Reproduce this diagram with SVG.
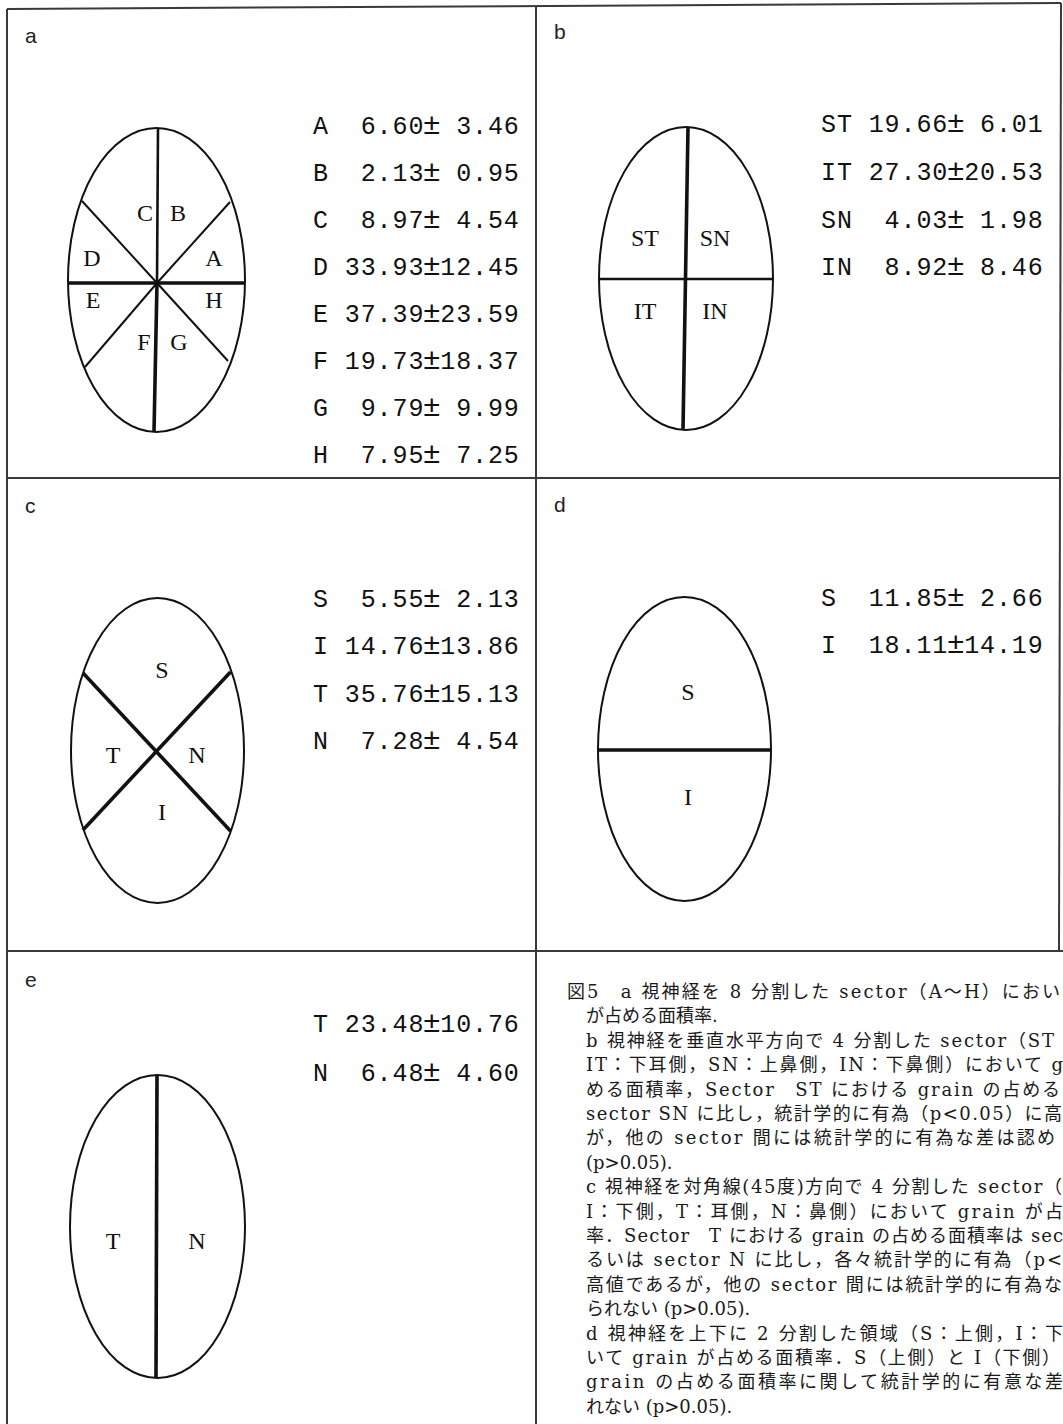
<svg xmlns="http://www.w3.org/2000/svg" width="1063" height="1424" viewBox="0 0 1063 1424">
<style>
.el{fill:none;stroke:#111;stroke-width:2}
.thin{stroke:#111;stroke-width:2;fill:none}
.mid{stroke:#111;stroke-width:2.6;fill:none}
.thick{stroke:#111;stroke-width:3.6;fill:none}
.frame{stroke:#3a3a3a;stroke-width:2;fill:none}
.lbl{font-family:"Liberation Serif",serif;font-size:24px;text-anchor:middle;fill:#111}
.val{font-family:"Liberation Mono",monospace;font-size:25px;letter-spacing:0.9px;fill:#111}
.pm{font-size:30px}
.pl{font-family:"Liberation Sans",sans-serif;font-size:21px;fill:#222}
.cap{font-family:"DejaVu Serif","Noto Sans CJK JP",serif;font-size:18px;fill:#1a1a1a}
</style>
<rect x="0" y="0" width="1063" height="1424" fill="#ffffff"/>
<g id="frame">
<line class="frame" x1="7" y1="9" x2="1061" y2="3"/>
<line class="frame" x1="7" y1="9" x2="7" y2="1424"/>
<line class="frame" x1="1061" y1="3" x2="1059" y2="951"/>
<line class="frame" x1="536" y1="6" x2="536" y2="1424"/>
<line class="frame" x1="7" y1="478" x2="1060" y2="478"/>
<line class="frame" x1="7" y1="951" x2="1063" y2="951"/>
</g>
<g id="panel-a">
<text class="pl" x="25" y="43">a</text>
<ellipse class="el" cx="156.5" cy="280" rx="88.5" ry="152"/>
<line class="thick" x1="68" y1="283" x2="245" y2="283"/>
<line class="mid" x1="158" y1="128" x2="157" y2="283"/>
<line class="thick" x1="157" y1="283" x2="154" y2="432"/>
<line class="thin" x1="82" y1="201" x2="157" y2="283"/>
<line class="thin" x1="230" y1="202" x2="157" y2="283"/>
<line class="thin" x1="85" y1="367" x2="157" y2="283"/>
<line class="thin" x1="228" y1="361" x2="157" y2="283"/>
<text class="lbl" x="145" y="221">C</text>
<text class="lbl" x="178" y="221">B</text>
<text class="lbl" x="92" y="266">D</text>
<text class="lbl" x="214" y="266">A</text>
<text class="lbl" x="93" y="308">E</text>
<text class="lbl" x="214" y="308">H</text>
<text class="lbl" x="144" y="350">F</text>
<text class="lbl" x="179" y="350">G</text>
<text class="val" xml:space="preserve" x="313" y="134">A  6.60<tspan class="pm" dx="-1.5">±</tspan><tspan dx="-1.5"> 3.46</tspan></text>
<text class="val" xml:space="preserve" x="313" y="181">B  2.13<tspan class="pm" dx="-1.5">±</tspan><tspan dx="-1.5"> 0.95</tspan></text>
<text class="val" xml:space="preserve" x="313" y="228">C  8.97<tspan class="pm" dx="-1.5">±</tspan><tspan dx="-1.5"> 4.54</tspan></text>
<text class="val" xml:space="preserve" x="313" y="275">D 33.93<tspan class="pm" dx="-1.5">±</tspan><tspan dx="-1.5">12.45</tspan></text>
<text class="val" xml:space="preserve" x="313" y="322">E 37.39<tspan class="pm" dx="-1.5">±</tspan><tspan dx="-1.5">23.59</tspan></text>
<text class="val" xml:space="preserve" x="313" y="369">F 19.73<tspan class="pm" dx="-1.5">±</tspan><tspan dx="-1.5">18.37</tspan></text>
<text class="val" xml:space="preserve" x="313" y="416">G  9.79<tspan class="pm" dx="-1.5">±</tspan><tspan dx="-1.5"> 9.99</tspan></text>
<text class="val" xml:space="preserve" x="313" y="463">H  7.95<tspan class="pm" dx="-1.5">±</tspan><tspan dx="-1.5"> 7.25</tspan></text>
</g>
<g id="panel-b">
<text class="pl" x="554" y="39">b</text>
<ellipse class="el" cx="686" cy="278.5" rx="87" ry="151.5"/>
<line class="mid" x1="599" y1="279" x2="773" y2="279"/>
<line class="thick" x1="688" y1="127" x2="683" y2="430"/>
<text class="lbl" x="645" y="246">ST</text>
<text class="lbl" x="715" y="246">SN</text>
<text class="lbl" x="645" y="319">IT</text>
<text class="lbl" x="715" y="319">IN</text>
<text class="val" xml:space="preserve" x="821" y="132">ST 19.66<tspan class="pm" dx="-1.5">±</tspan><tspan dx="-1.5"> 6.01</tspan></text>
<text class="val" xml:space="preserve" x="821" y="180">IT 27.30<tspan class="pm" dx="-1.5">±</tspan><tspan dx="-1.5">20.53</tspan></text>
<text class="val" xml:space="preserve" x="821" y="228">SN  4.03<tspan class="pm" dx="-1.5">±</tspan><tspan dx="-1.5"> 1.98</tspan></text>
<text class="val" xml:space="preserve" x="821" y="275">IN  8.92<tspan class="pm" dx="-1.5">±</tspan><tspan dx="-1.5"> 8.46</tspan></text>
</g>
<g id="panel-c">
<text class="pl" x="25" y="513">c</text>
<ellipse class="el" cx="157.5" cy="750.5" rx="86.5" ry="152.5"/>
<line class="thick" x1="83" y1="673" x2="230.5" y2="831"/>
<line class="thick" x1="230.5" y1="672" x2="83" y2="830"/>
<text class="lbl" x="162" y="678">S</text>
<text class="lbl" x="113" y="763">T</text>
<text class="lbl" x="197" y="763">N</text>
<text class="lbl" x="162" y="820">I</text>
<text class="val" xml:space="preserve" x="313" y="607">S  5.55<tspan class="pm" dx="-1.5">±</tspan><tspan dx="-1.5"> 2.13</tspan></text>
<text class="val" xml:space="preserve" x="313" y="654">I 14.76<tspan class="pm" dx="-1.5">±</tspan><tspan dx="-1.5">13.86</tspan></text>
<text class="val" xml:space="preserve" x="313" y="702">T 35.76<tspan class="pm" dx="-1.5">±</tspan><tspan dx="-1.5">15.13</tspan></text>
<text class="val" xml:space="preserve" x="313" y="749">N  7.28<tspan class="pm" dx="-1.5">±</tspan><tspan dx="-1.5"> 4.54</tspan></text>
</g>
<g id="panel-d">
<text class="pl" x="554" y="512">d</text>
<ellipse class="el" cx="684.5" cy="749" rx="86.5" ry="152"/>
<line class="thick" x1="598" y1="750" x2="771" y2="750"/>
<text class="lbl" x="688" y="700">S</text>
<text class="lbl" x="688" y="805">I</text>
<text class="val" xml:space="preserve" x="821" y="606">S  11.85<tspan class="pm" dx="-1.5">±</tspan><tspan dx="-1.5"> 2.66</tspan></text>
<text class="val" xml:space="preserve" x="821" y="653">I  18.11<tspan class="pm" dx="-1.5">±</tspan><tspan dx="-1.5">14.19</tspan></text>
</g>
<g id="panel-e">
<text class="pl" x="25" y="987">e</text>
<ellipse class="el" cx="157.5" cy="1226.5" rx="87.5" ry="151.5"/>
<line class="thick" x1="157" y1="1075" x2="156" y2="1378"/>
<text class="lbl" x="113" y="1249">T</text>
<text class="lbl" x="197" y="1249">N</text>
<text class="val" xml:space="preserve" x="313" y="1032">T 23.48<tspan class="pm" dx="-1.5">±</tspan><tspan dx="-1.5">10.76</tspan></text>
<text class="val" xml:space="preserve" x="313" y="1081">N  6.48<tspan class="pm" dx="-1.5">±</tspan><tspan dx="-1.5"> 4.60</tspan></text>
</g>
<g id="caption">
<text class="cap" x="567" y="998" textLength="493" lengthAdjust="spacing">図5　a 視神経を 8 分割した sector（A～H）におい</text>
<text class="cap" x="586" y="1022.4">が占める面積率.</text>
<text class="cap" x="586" y="1046.8" textLength="468" lengthAdjust="spacing">b 視神経を垂直水平方向で 4 分割した sector（ST</text>
<text class="cap" x="586" y="1071.2" textLength="477" lengthAdjust="spacing">IT：下耳側，SN：上鼻側，IN：下鼻側）において g</text>
<text class="cap" x="586" y="1095.6" textLength="474" lengthAdjust="spacing">める面積率，Sector　ST における grain の占める</text>
<text class="cap" x="586" y="1120" textLength="476" lengthAdjust="spacing">sector SN に比し，統計学的に有為（p&lt;0.05）に高</text>
<text class="cap" x="586" y="1144.4" textLength="469" lengthAdjust="spacing">が，他の sector 間には統計学的に有為な差は認め</text>
<text class="cap" x="586" y="1168.8">(p&gt;0.05).</text>
<text class="cap" x="586" y="1193.2" textLength="476" lengthAdjust="spacing">c 視神経を対角線(45度)方向で 4 分割した sector（</text>
<text class="cap" x="586" y="1217.6" textLength="477" lengthAdjust="spacing">I：下側，T：耳側，N：鼻側）において grain が占</text>
<text class="cap" x="586" y="1242" textLength="477" lengthAdjust="spacing">率．Sector　T における grain の占める面積率は sec</text>
<text class="cap" x="586" y="1266.4" textLength="476" lengthAdjust="spacing">るいは sector N に比し，各々統計学的に有為（p&lt;</text>
<text class="cap" x="586" y="1290.8" textLength="476" lengthAdjust="spacing">高値であるが，他の sector 間には統計学的に有為な</text>
<text class="cap" x="586" y="1315.2">られない (p&gt;0.05).</text>
<text class="cap" x="586" y="1339.6" textLength="477" lengthAdjust="spacing">d 視神経を上下に 2 分割した領域（S：上側，I：下</text>
<text class="cap" x="586" y="1364" textLength="474" lengthAdjust="spacing">いて grain が占める面積率．S（上側）と I（下側）</text>
<text class="cap" x="586" y="1388.4" textLength="477" lengthAdjust="spacing">grain の占める面積率に関して統計学的に有意な差</text>
<text class="cap" x="586" y="1412.8">れない (p&gt;0.05).</text>
</g>
</svg>
